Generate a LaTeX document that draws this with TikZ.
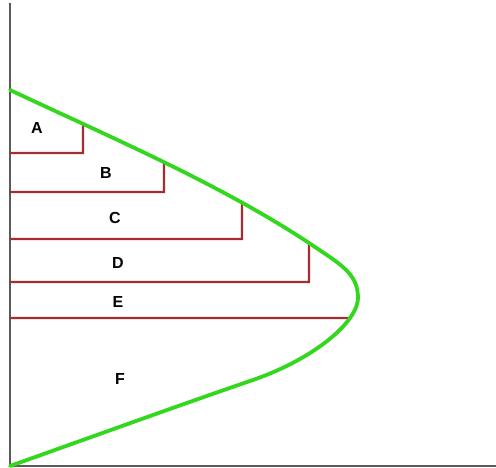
\documentclass[tikz,border=0pt]{standalone}
\usepackage{fontspec}
\setmainfont{Liberation Sans}
\usetikzlibrary{intersections}
\begin{document}
\begin{tikzpicture}[x=1pt,y=-1pt,
  axis/.style={draw=axisgray,line width=1.5pt},
  curve/.style={draw=curvegreen,line width=3.8pt,line cap=round},
  bar/.style={draw=barred,line width=2.4pt},
  lab/.style={font=\fontsize{16}{16}\selectfont\bfseries,inner sep=0pt}]
\definecolor{axisgray}{RGB}{90,90,90}
\definecolor{curvegreen}{RGB}{50,215,30}
\definecolor{barred}{RGB}{165,45,50}
\useasboundingbox (0,0) rectangle (496,468);
% axes
\coordinate (top) at (10,3);
\coordinate (origin) at (10,466);
\coordinate (right) at (496,466);
\draw[axis] (top) -- (origin) -- (right);
% green curve path (drawn later, on top)
\path[name path=curvepath] (10,90) .. controls (110,137) and (220,184) .. (309,243)
  .. controls (340,264) and (358,273) .. (358,298)
  .. controls (358,320) and (318,358) .. (250,381)
  .. controls (180,405) and (100,434) .. (10,466);
% guide lines for intersections
\path[name path=gA] (83,60) -- (83,153);
\path[name path=gB] (164,60) -- (164,192);
\path[name path=gC] (242,60) -- (242,239);
\path[name path=gD] (309,60) -- (309,282);
\path[name path=gE] (10,318) -- (400,318);
\path[name intersections={of=curvepath and gA,by=cA}];
\path[name intersections={of=curvepath and gB,by=cB}];
\path[name intersections={of=curvepath and gC,by=cC}];
\path[name intersections={of=curvepath and gD,by=cD}];
\path[name intersections={of=curvepath and gE,by=cE}];
% red steps
\coordinate (aA) at (10,153);
\coordinate (aB) at (10,192);
\coordinate (aC) at (10,239);
\coordinate (aD) at (10,282);
\coordinate (aE) at (10,318);
\draw[bar] (aA) -- (83,153) -- (cA);
\draw[bar] (aB) -- (164,192) -- (cB);
\draw[bar] (aC) -- (242,239) -- (cC);
\draw[bar] (aD) -- (309,282) -- (cD);
\draw[bar] (aE) -- (cE);
% green curve
\draw[curve] (10,90) .. controls (110,137) and (220,184) .. (309,243)
  .. controls (340,264) and (358,273) .. (358,298)
  .. controls (358,320) and (318,358) .. (250,381)
  .. controls (180,405) and (100,434) .. (10,466);
% labels
\node[lab] (A) at (37,128) {A};
\node[lab] (B) at (106,173) {B};
\node[lab] (C) at (115,218) {C};
\node[lab] (D) at (118,263) {D};
\node[lab] (E) at (118,302) {E};
\node[lab] (F) at (120,379) {F};
\end{tikzpicture}
\end{document}
